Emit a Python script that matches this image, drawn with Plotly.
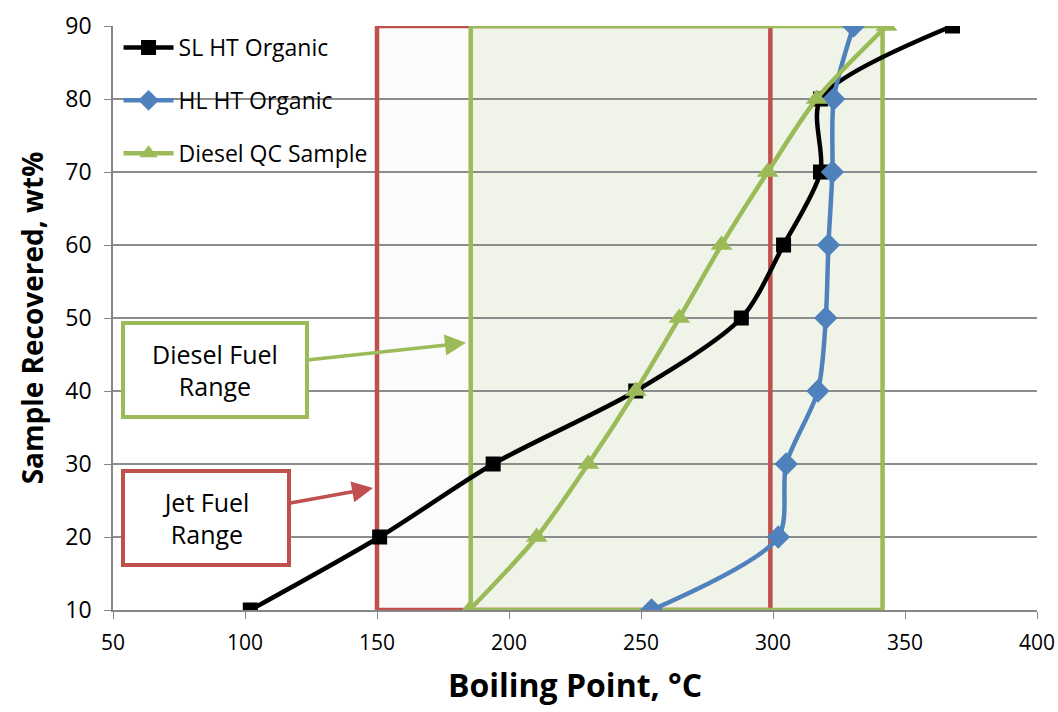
import plotly.graph_objects as go

recovered = [10, 20, 30, 40, 50, 60, 70, 80, 90]
sl_ht_organic = [102, 151, 194, 248, 288, 304, 318, 318, 368]
hl_ht_organic = [254, 302, 305, 317, 320, 321, 322.5, 323, 330.5]
diesel_qc = [185, 210.5, 230, 248, 264.5, 280.5, 298, 316.5, 343]

jet_range = [150, 299]
diesel_range = [185.5, 341.5]
y_range = [10, 90]

x_ticks = [50, 100, 150, 200, 250, 300, 350, 400]
y_ticks = [10, 20, 30, 40, 50, 60, 70, 80, 90]

RED = "#C0504D"
GREEN = "#9BBB59"
BLUE = "#4F81BD"
BLACK = "#000000"
FONT = "Open Sans"

fig = go.Figure()

fig.add_trace(go.Scatter(
    x=sl_ht_organic, y=recovered, name="SL HT Organic", mode="lines+markers",
    line=dict(color=BLACK, width=4.5, shape="spline", smoothing=0.8),
    marker=dict(symbol="square", size=15, color=BLACK),
    legendgroup="a"))
fig.add_trace(go.Scatter(
    x=hl_ht_organic, y=recovered, name="HL HT Organic", mode="lines+markers",
    line=dict(color=BLUE, width=4.5, shape="spline", smoothing=0.8),
    marker=dict(symbol="diamond", size=18, color=BLUE),
    legendgroup="b"))
fig.add_trace(go.Scatter(
    x=diesel_qc, y=recovered, name="Diesel QC Sample", mode="lines+markers",
    line=dict(color=GREEN, width=4.5, shape="spline", smoothing=0.8),
    marker=dict(symbol="triangle-up", size=19, color=GREEN),
    legendgroup="c"))

# fills
fig.add_shape(type="rect", xref="x", yref="y", x0=jet_range[0], x1=jet_range[1],
              y0=y_range[0], y1=y_range[1], fillcolor="#FBFBFB", line=dict(width=0), layer="below")
fig.add_shape(type="rect", xref="x", yref="y", x0=diesel_range[0], x1=diesel_range[1],
              y0=y_range[0], y1=y_range[1], fillcolor="#F0F3E7", line=dict(width=0), layer="below")
# borders
fig.add_shape(type="rect", xref="x", yref="y", x0=jet_range[0], x1=jet_range[1],
              y0=y_range[0], y1=y_range[1], line=dict(color=RED, width=4.5), layer="between")
fig.add_shape(type="rect", xref="x", yref="y", x0=diesel_range[0], x1=diesel_range[1],
              y0=y_range[0], y1=y_range[1], line=dict(color=GREEN, width=4.5), layer="between")

fig.add_annotation(x=183.7, y=46.6, xref="x", yref="y", ax=-251, ay=27,
                   text="Diesel Fuel<br>Range", showarrow=True,
                   arrowhead=2, arrowsize=1.2, arrowwidth=3.5, arrowcolor=GREEN,
                   font=dict(family=FONT, size=25, color="#000"),
                   bordercolor=GREEN, borderwidth=4, borderpad=2,
                   bgcolor="white", width=176, height=86, align="center")
fig.add_annotation(x=148.5, y=26.7, xref="x", yref="y", ax=-167, ay=30,
                   text="Jet Fuel<br>Range", showarrow=True,
                   arrowhead=2, arrowsize=1.2, arrowwidth=3.5, arrowcolor=RED,
                   font=dict(family=FONT, size=25, color="#000"),
                   bordercolor=RED, borderwidth=4, borderpad=2,
                   bgcolor="white", width=158, height=86, align="center")

fig.update_layout(
    width=1058, height=712,
    margin=dict(l=113, r=21, t=26, b=102),
    paper_bgcolor="white", plot_bgcolor="white",
    font=dict(family=FONT, color="#000"),
    legend=dict(x=0.006, y=1.0, xanchor="left", yanchor="top",
                bgcolor="rgba(0,0,0,0)", font=dict(size=23, family=FONT),
                tracegroupgap=20, traceorder="grouped", itemwidth=50),
    showlegend=True,
)
fig.update_xaxes(range=[50, 400], tickvals=x_ticks, showgrid=False, zeroline=False,
                 showline=True, linecolor="#868686", linewidth=1.5,
                 ticks="outside", ticklen=7, tickcolor="#868686",
                 ticklabelstandoff=6, automargin=False,
                 tickfont=dict(size=21, family=FONT),
                 title=dict(text="<b>Boiling Point, °C</b>", font=dict(size=32, family=FONT), standoff=20))
fig.update_yaxes(range=[10, 90], tickvals=y_ticks, showgrid=True, gridcolor="#8C8C8C", gridwidth=1.5,
                 zeroline=False, showline=True, linecolor="#868686", linewidth=1.5,
                 ticks="outside", ticklen=7, tickcolor="#868686", automargin=False,
                 ticklabelstandoff=8,
                 tickfont=dict(size=23, family=FONT),
                 title=dict(text="<b>Sample Recovered, wt%</b>", font=dict(size=28, family=FONT), standoff=14))

fig.write_html("out.html")
